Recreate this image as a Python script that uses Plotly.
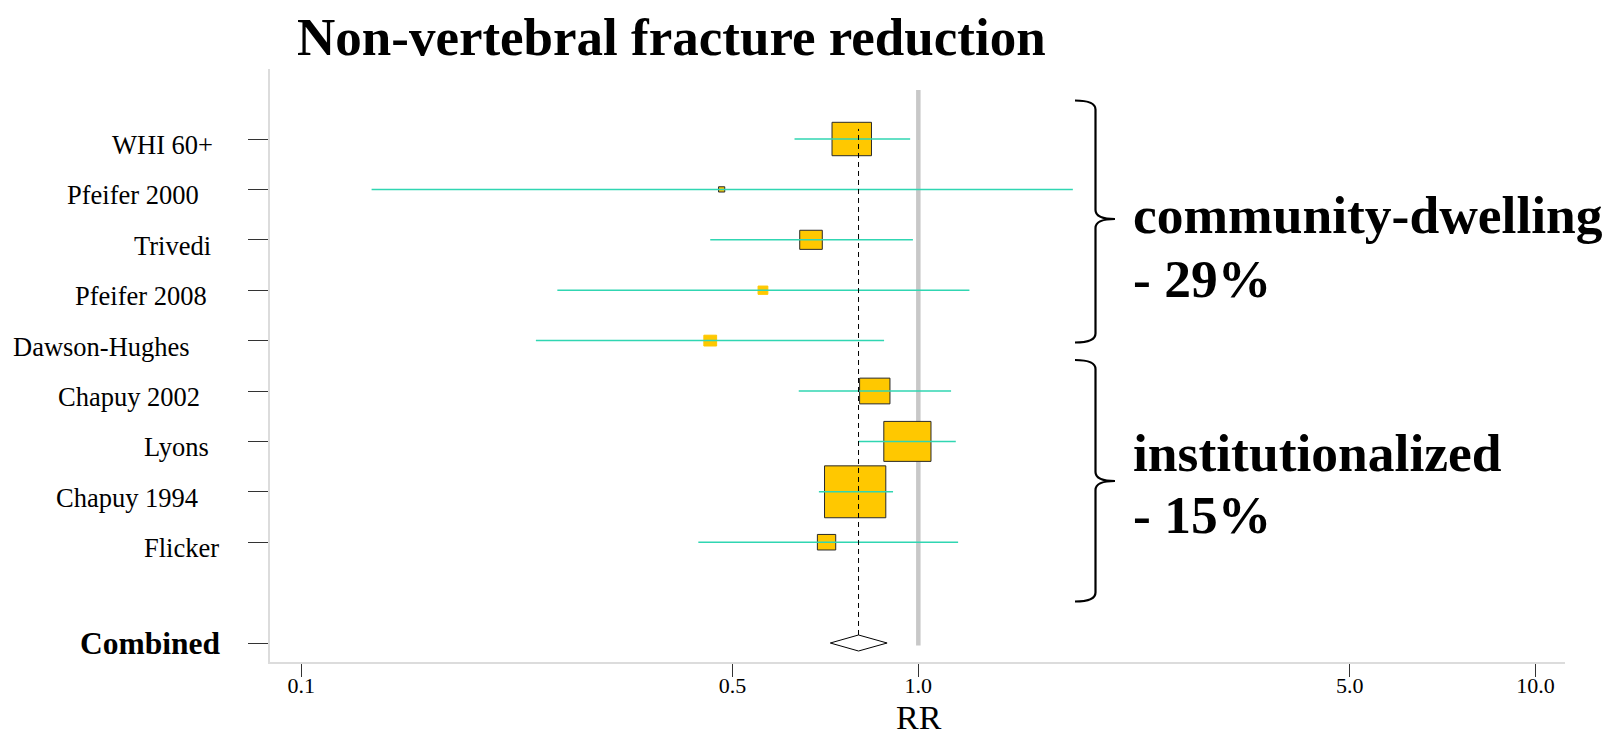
import numpy as np
import plotly.graph_objects as go

# ---------------- data ----------------
studies = ["WHI 60+", "Pfeifer 2000", "Trivedi", "Pfeifer 2008", "Dawson-Hughes",
           "Chapuy 2002", "Lyons", "Chapuy 1994", "Flicker"]
rr = [0.78, 0.48, 0.67, 0.56, 0.46, 0.85, 0.96, 0.79, 0.71]
ci_low = [0.63, 0.13, 0.46, 0.26, 0.24, 0.64, 0.80, 0.69, 0.44]
ci_high = [0.97, 1.78, 0.98, 1.21, 0.88, 1.13, 1.15, 0.91, 1.16]
weight = [16.2, 0.4, 5.3, 1.0, 1.7, 9.6, 23.2, 39.1, 3.5]
rows = [10, 9, 8, 7, 6, 5, 4, 3, 2]

combined_label = "Combined"
combined_rr = 0.80
combined_low = 0.72
combined_high = 0.89
combined_row = 0

x_tickvals = [0.1, 0.5, 1.0, 5.0, 10.0]
x_ticktext = ["0.1", "0.5", "1.0", "5.0", "10.0"]

title_text = "Non-vertebral fracture reduction"
group_labels = ["community-dwelling", "institutionalized"]
group_effects = ["- 29%", "- 15%"]

# ---------------- styles ----------------
FONT = "Liberation Serif, Times New Roman, serif"
GOLD = "#FFC800"
CI_COLOR = "#30D6B2"
box_outlined = [True, True, True, False, False, True, True, True, True]
label_right_px = [215, 201, 213, 209, 192, 202, 211, 200, 221]
combined_right_px = 223

# page offset of the figure (default body margin)
OFF = 8
W, H = 1610 - OFF, 738 - OFF
# plot area in screen pixels
PL, PR, PT, PB = 270, 1565, 69, 662
PW, PH = PR - PL, PB - PT

def px2paper_x(px):
    return (px - PL) / PW

def px2paper_y(py):
    return (PB - py) / PH

# box scale (log10 units per sqrt(weight), y-units per sqrt(weight))
KX = 0.01588
KY = 0.1647

fig = go.Figure()

# reference line at RR = 1
fig.add_trace(go.Scatter(x=[1.0, 1.0], y=[-0.05, 10.97], mode="lines",
                         line=dict(color="#c8c8c8", width=4.5), hoverinfo="skip"))

# boxes
for r, w, yv, outl in zip(rr, weight, rows, box_outlined):
    hw = 0.5 * KX * np.sqrt(w)
    hh = 0.5 * KY * np.sqrt(w)
    x0, x1 = r * 10 ** (-hw), r * 10 ** (hw)
    fig.add_trace(go.Scatter(
        x=[x0, x1, x1, x0, x0], y=[yv - hh, yv - hh, yv + hh, yv + hh, yv - hh],
        mode="lines", fill="toself", fillcolor=GOLD,
        line=dict(color="#2a2a2a" if outl else GOLD, width=1), hoverinfo="skip"))

# confidence intervals
cx, cy = [], []
for lo, hi, yv in zip(ci_low, ci_high, rows):
    cx += [lo, hi, None]
    cy += [yv, yv, None]
fig.add_trace(go.Scatter(x=cx, y=cy, mode="lines",
                         line=dict(color=CI_COLOR, width=1.5), hoverinfo="skip"))

# dashed line at combined estimate
dh = 0.159
fig.add_trace(go.Scatter(x=[combined_rr, combined_rr], y=[combined_row + dh, 10.2], mode="lines",
                         line=dict(color="black", width=1, dash="5px,4px"), hoverinfo="skip"))

# combined diamond
fig.add_trace(go.Scatter(
    x=[combined_low, combined_rr, combined_high, combined_rr, combined_low],
    y=[combined_row, combined_row + dh, combined_row, combined_row - dh, combined_row],
    mode="lines", fill="toself", fillcolor="white",
    line=dict(color="black", width=1), hoverinfo="skip"))

annotations = []
# study labels
for name, yv, rpx in zip(studies, rows, label_right_px):
    annotations.append(dict(text=name, xref="paper", yref="y", x=px2paper_x(rpx), y=yv,
                            xanchor="right", yanchor="middle", yshift=-6, showarrow=False,
                            font=dict(family=FONT, size=26.5, color="black")))
annotations.append(dict(text="<b>" + combined_label + "</b>", xref="paper", yref="y",
                        x=px2paper_x(combined_right_px), y=combined_row,
                        xanchor="right", yanchor="middle", showarrow=False,
                        font=dict(family=FONT, size=31.5, color="black")))

# title
annotations.append(dict(text="<b>" + title_text + "</b>", xref="paper", yref="paper",
                        x=px2paper_x(295), y=px2paper_y(37.5), xanchor="left", yanchor="middle",
                        showarrow=False, font=dict(family=FONT, size=53, color="black")))

# axis title
annotations.append(dict(text="RR", xref="paper", yref="paper", x=px2paper_x(919), y=px2paper_y(718),
                        xanchor="center", yanchor="middle", showarrow=False,
                        font=dict(family=FONT, size=34, color="black")))

# group texts
group_y = [(214.5, 278.5), (452.5, 514.5)]
for lab, eff, (y1, y2) in zip(group_labels, group_effects, group_y):
    annotations.append(dict(text="<b>" + lab + "</b>", xref="paper", yref="paper",
                            x=px2paper_x(1131), y=px2paper_y(y1), xanchor="left", yanchor="middle",
                            showarrow=False, font=dict(family=FONT, size=53.5, color="black")))
    annotations.append(dict(text="<b>" + eff + "</b>", xref="paper", yref="paper",
                            x=px2paper_x(1131), y=px2paper_y(y2), xanchor="left", yanchor="middle",
                            showarrow=False, font=dict(family=FONT, size=53.5, color="black")))

# braces
def brace_path(top, bottom, mid, xs, xh, xt, r=9):
    pts = lambda x, y: f"{px2paper_x(x):.5f},{px2paper_y(y):.5f}"
    return ("M " + pts(xh, top) +
            " Q " + pts(xs, top) + " " + pts(xs, top + r) +
            " L " + pts(xs, mid - r) +
            " Q " + pts(xs, mid) + " " + pts(xt, mid) +
            " Q " + pts(xs, mid) + " " + pts(xs, mid + r) +
            " L " + pts(xs, bottom - r) +
            " Q " + pts(xs, bottom) + " " + pts(xh, bottom))

shapes = []
for (top, bottom, mid) in [(100.5, 342.5, 219), (360, 601.5, 481)]:
    shapes.append(dict(type="path", xref="paper", yref="paper",
                       path=brace_path(top, bottom, mid, 1095.5, 1075, 1115),
                       line=dict(color="black", width=2.2)))

fig.update_layout(
    width=W, height=H,
    margin=dict(l=PL - OFF, r=W + OFF - PR, t=PT - OFF, b=H + OFF - PB),
    paper_bgcolor="white", plot_bgcolor="white",
    showlegend=False,
    annotations=annotations,
    shapes=shapes,
    xaxis=dict(type="log", range=[-1.0507, 1.048], tickvals=x_tickvals, ticktext=x_ticktext,
               ticks="outside", ticklen=13, tickcolor="#333333", tickwidth=1,
               ticklabelstandoff=-10,
               showline=True, linecolor="#dcdcdc", linewidth=2,
               showgrid=False, zeroline=False,
               tickfont=dict(family=FONT, size=22, color="black")),
    yaxis=dict(range=[-0.377, 11.389], tickvals=rows + [combined_row],
               ticks="outside", ticklen=20, tickcolor="#333333", tickwidth=1,
               showticklabels=False, showline=True, linecolor="#dcdcdc", linewidth=1.5,
               showgrid=False, zeroline=False),
)

fig.write_html("out.html")
